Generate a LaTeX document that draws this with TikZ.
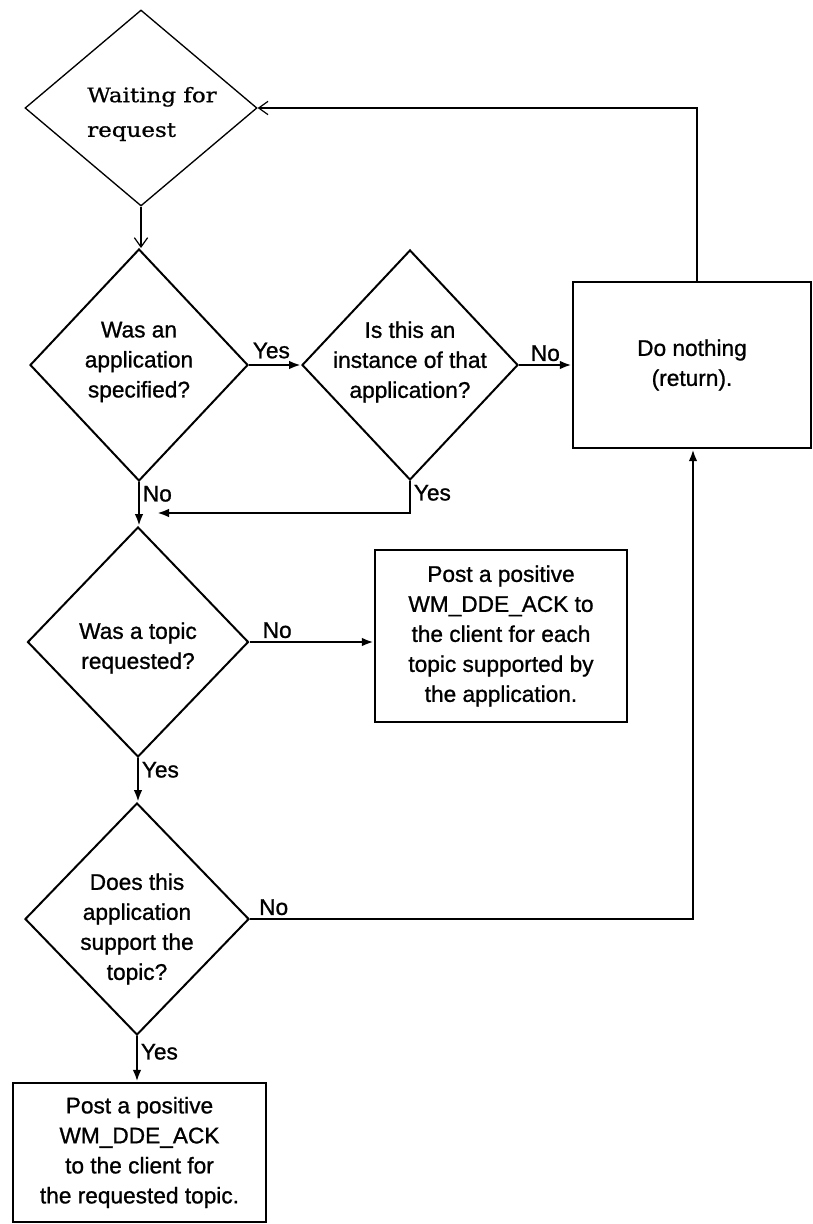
\documentclass[tikz,border=0pt]{standalone}
\usepackage{fontspec}
\setmainfont[FakeBold=1]{Liberation Sans}
\newfontfamily\waitfont[FakeStretch=1.15,FakeBold=0.8]{DejaVu Serif}
\usetikzlibrary{shapes.geometric,arrows.meta}

\begin{document}
\begin{tikzpicture}[x=0.75pt,y=-0.75pt]
\tikzset{
  txt/.style={font=\fontsize{17}{22.5}\selectfont, align=center, inner sep=0pt},
  dia/.style={draw, shape=diamond, line width=1.5pt, inner sep=0pt},
  box/.style={draw, rectangle, line width=1.8pt, inner sep=0pt, align=center,
              font=\fontsize{17}{22.5}\selectfont},
  flow/.style={line width=1.8pt, -{Latex[length=9pt,width=6.5pt]}},
  thinflow/.style={line width=0.9pt, -{Straight Barb[length=7pt,width=10pt]}},
  lab/.style={font=\fontsize{17}{20}\selectfont, inner sep=2pt},
}
\useasboundingbox (0,0) rectangle (813,1224);

% decision diamonds
\node[dia, line width=1pt, minimum width=174pt, minimum height=147pt] (d0) at (141,108) {};
\node[dia, minimum width=163.5pt, minimum height=174pt] (d1) at (139,365) {};
\node[dia, minimum width=162pt, minimum height=172.5pt] (d2) at (410,365) {};
\node[dia, minimum width=165.75pt, minimum height=172.5pt] (d3) at (138,642) {};
\node[dia, minimum width=168pt, minimum height=174pt] (d4) at (137,919) {};

% diamond texts
\node[inner sep=0pt, align=left, font=\waitfont\fontsize{15}{26}\selectfont] (t0) at (152,114)
  {Waiting for\\request};
\node[txt] (t1) at (139,362) {Was an\\application\\specified?};
\node[txt] (t2) at (410,362) {Is this an\\instance of that\\application?};
\node[txt] (t3) at (138,648) {Was a topic\\requested?};
\node[txt] (t4) at (137,929) {Does this\\application\\support the\\topic?};

% action boxes
\node[box, minimum width=178.5pt, minimum height=124.5pt] (box1) at (692,365)
  {Do nothing\\(return).};
\node[box, minimum width=189pt, minimum height=129pt] (b2) at (501,636)
  {Post a positive\\WM\_DDE\_ACK to\\the client for each\\topic supported by\\the application.};
\node[box, minimum width=189.75pt, minimum height=104.25pt] (b3) at (139.5,1152.5)
  {Post a positive\\WM\_DDE\_ACK\\to the client for\\the requested topic.};

% helper points for bent connectors
\coordinate (ret) at (697,103);
\coordinate (jn) at (157,513);
\coordinate (rb) at (693,448);

% connectors
\draw[thinflow] (d0.south) -- (d0.south |- d1.north);
\draw[thinflow] (box1.north -| ret) |- (d0.east);

\draw[flow] (d1.east) -- node[lab, anchor=south west, pos=0, yshift=2pt] (l1) {Yes} (d2.west);
\draw[flow] (d2.east) -- node[lab, anchor=south west, pos=0, xshift=6pt] (l2) {No} (box1.west);
\draw[flow] (d1.south) -- node[lab, anchor=north west, pos=0] (l3) {No} (d1.south |- d3.north);
\draw[flow] (d2.south) |- node[lab, anchor=north west, pos=0] (l4) {Yes} (jn);
\draw[flow] (d3.east) -- node[lab, anchor=south west, pos=0, xshift=7pt] (l5) {No} (d3.east -| b2.west);
\draw[flow] (d3.south) -- node[lab, anchor=north west, pos=0] (l6) {Yes} (d3.south |- d4.north);
\draw[flow] (d4.east) -| node[lab, anchor=south west, pos=0, xshift=4pt] (l7) {No} (box1.south -| rb);
\draw[flow] (d4.south) -- node[lab, anchor=north west, pos=0, yshift=-3pt] (l8) {Yes} (d4.south |- b3.north);
\end{tikzpicture}
\end{document}
